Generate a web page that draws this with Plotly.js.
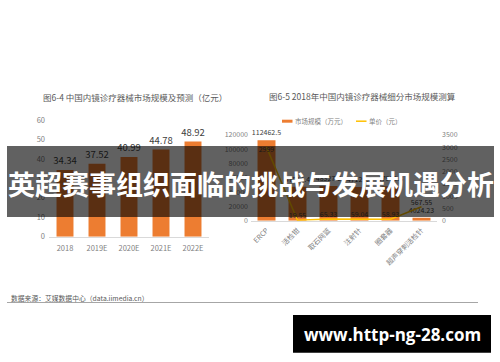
<!DOCTYPE html>
<html>
<head>
<meta charset="utf-8">
<script src="https://cdn.plot.ly/plotly-3.0.1.min.js"></script>
<style>html,body{margin:0;padding:0;background:#fff;}#chart{width:500px;height:362px;}</style>
</head>
<body>
<div id="chart"></div>
<script>
// Left chart data
const leftCats = ['2018', '2019E', '2020E', '2021E', '2022E'];
const leftVals = [34.34, 37.52, 40.99, 44.78, 48.92];
const leftTicks = [0, 10, 20, 30, 40, 50, 60];

// Right chart data
const rightCats = ['ERCP', '活检钳', '取石网篮', '注射针', '圈套器', '超声穿刺活检针'];
const marketVals = [112462.5, 47515.4, 48327.6, 47129.5, 47982.3, 4024.23];
const priceVals = [2999, 19.55, 65.33, 59.04, 58.93, 567.55];
const marketTicks = [0, 20000, 40000, 60000, 80000, 100000, 120000];
const priceTicks = [0, 500, 1000, 1500, 2000, 2500, 3000, 3500];

const leftTitle = '图6-4 中国内镜诊疗器械市场规模及预测（亿元）';
const rightTitle = '图6-5 2018年中国内镜诊疗器械细分市场规模测算';
const legendNames = ['市场规模（万元）', '单价（元）'];
const sourceText = '数据来源：艾媒数据中心（data.iimedia.cn）';
const bannerText = '英超赛事组织面临的挑战与发展机遇分析';
const watermarkText = 'www.http-ng-28.com';

const W = 500, H = 362;
const px = x => x / W;
const py = y => (H - y) / H;

const ORANGE = '#ED7D31';
const YELLOW = '#FFC000';
const TICK = '#7f7f7f';
const LABEL = '#404040';
const FONT = 'Noto Sans CJK SC';

const traces = [
  {
    type: 'bar', x: leftCats, y: leftVals, xaxis: 'x', yaxis: 'y',
    marker: {color: ORANGE}, width: 0.53,
    text: leftVals.map(v => v.toFixed(2)), textposition: 'outside',
    textfont: {size: 9.5, color: LABEL, family: FONT},
    constraintext: 'none', cliponaxis: false, hoverinfo: 'none', showlegend: false
  },
  {
    type: 'bar', x: rightCats, y: marketVals, xaxis: 'x2', yaxis: 'y2',
    name: legendNames[0],
    marker: {color: ORANGE}, width: 0.58,
    text: marketVals.map(v => String(v)), textposition: 'outside',
    textfont: {size: 7, color: LABEL, family: FONT},
    constraintext: 'none', cliponaxis: false, hoverinfo: 'none', showlegend: false
  },
  {
    type: 'scatter', mode: 'lines+text', x: rightCats, y: priceVals, xaxis: 'x2', yaxis: 'y3',
    name: legendNames[1],
    line: {color: YELLOW, width: 1.5},
    text: priceVals.map(v => String(v)),
    textposition: priceVals.map((v, i) => i === 0 ? 'bottom center' : 'top center'),
    textfont: {size: 7, color: LABEL, family: FONT},
    cliponaxis: false, hoverinfo: 'none', showlegend: false
  }
];

const tickFont = {size: 7.5, color: TICK, family: FONT};

const layout = {
  width: W, height: H,
  margin: {l: 0, r: 0, t: 0, b: 0},
  paper_bgcolor: '#ffffff', plot_bgcolor: 'rgba(0,0,0,0)',
  font: {family: FONT, color: '#595959'},
  showlegend: false,
  xaxis: {
    domain: [px(49), px(209)], anchor: 'y', type: 'category',
    showline: true, linecolor: '#d9d9d9', linewidth: 1,
    showgrid: false, ticks: '', tickfont: tickFont, ticklabelstandoff: 4, fixedrange: true
  },
  yaxis: {
    domain: [py(236.7), py(120)], anchor: 'x', range: [0, 60],
    tickvals: leftTicks, showgrid: false, zeroline: false, showline: false,
    ticks: '', tickfont: tickFont, ticklabelstandoff: 3, fixedrange: true
  },
  xaxis2: {
    domain: [px(251), px(437)], anchor: 'y2', type: 'category',
    showline: true, linecolor: '#d9d9d9', linewidth: 1,
    showgrid: false, ticks: '', tickangle: -45,
    tickfont: {size: 7, color: TICK, family: FONT}, ticklabelstandoff: 2, fixedrange: true
  },
  yaxis2: {
    domain: [py(220.7), py(134.8)], anchor: 'x2', range: [0, 120000],
    tickvals: marketTicks, tickformat: 'd', showgrid: false, zeroline: false, showline: false,
    ticks: '', tickfont: {size: 7, color: TICK, family: FONT}, ticklabelstandoff: 2, fixedrange: true
  },
  yaxis3: {
    overlaying: 'y2', side: 'right', anchor: 'x2', range: [0, 3500],
    tickvals: priceTicks, tickformat: 'd', showgrid: false, zeroline: false, showline: false,
    ticks: '', tickfont: {size: 7, color: TICK, family: FONT}, ticklabelstandoff: 4, fixedrange: true
  },
  shapes: [
    // legend symbols
    {type: 'rect', xref: 'paper', yref: 'paper', x0: px(282), x1: px(292.5), y0: py(122.7), y1: py(119.7),
     fillcolor: ORANGE, line: {width: 0}},
    {type: 'line', xref: 'paper', yref: 'paper', x0: px(356), x1: px(366.5), y0: py(121.2), y1: py(121.2),
     line: {color: YELLOW, width: 1.5}},
    // footer rule
    {type: 'line', xref: 'paper', yref: 'paper', x0: px(7), x1: px(478), y0: py(302.5), y1: py(302.5),
     line: {color: '#a6a6a6', width: 1}},
    // banner band
    {type: 'rect', xref: 'paper', yref: 'paper', x0: px(7), x1: px(494), y0: py(217), y1: py(146),
     fillcolor: 'rgba(0,0,0,0.62)', line: {width: 0}, layer: 'above'},
    // watermark box
    {type: 'rect', xref: 'paper', yref: 'paper', x0: px(293), x1: px(491), y0: py(352.7), y1: py(315),
     fillcolor: '#000000', line: {width: 0}, layer: 'above'}
  ],
  annotations: [
    {xref: 'paper', yref: 'paper', x: px(135), y: py(97), text: leftTitle, showarrow: false,
     xanchor: 'center', yanchor: 'middle', font: {size: 8.5, color: '#595959', family: FONT}},
    {xref: 'paper', yref: 'paper', x: px(362), y: py(95.5), text: rightTitle, showarrow: false,
     xanchor: 'center', yanchor: 'middle', font: {size: 8.5, color: '#595959', family: FONT}},
    {xref: 'paper', yref: 'paper', x: px(293), y: py(121.2), text: legendNames[0], showarrow: false,
     xanchor: 'left', yanchor: 'middle', font: {size: 6.5, color: '#7f7f7f', family: FONT}},
    {xref: 'paper', yref: 'paper', x: px(367), y: py(121.2), text: legendNames[1], showarrow: false,
     xanchor: 'left', yanchor: 'middle', font: {size: 6.5, color: '#7f7f7f', family: FONT}},
    {xref: 'paper', yref: 'paper', x: px(9), y: py(298), text: sourceText, showarrow: false,
     xanchor: 'left', yanchor: 'middle', font: {size: 6.8, color: '#595959', family: FONT}},
    {xref: 'paper', yref: 'paper', x: px(250.5), y: py(183), text: bannerText, showarrow: false,
     xanchor: 'center', yanchor: 'middle', font: {size: 27, color: '#ffffff', family: FONT, weight: 'bold'}},
    {xref: 'paper', yref: 'paper', x: px(392), y: py(334), text: watermarkText, showarrow: false,
     xanchor: 'center', yanchor: 'middle', font: {size: 17, color: '#ffffff', family: 'Open Sans', weight: 'bold'}}
  ]
};

Plotly.newPlot('chart', traces, layout, {staticPlot: true, displayModeBar: false});
</script>
</body>
</html>
